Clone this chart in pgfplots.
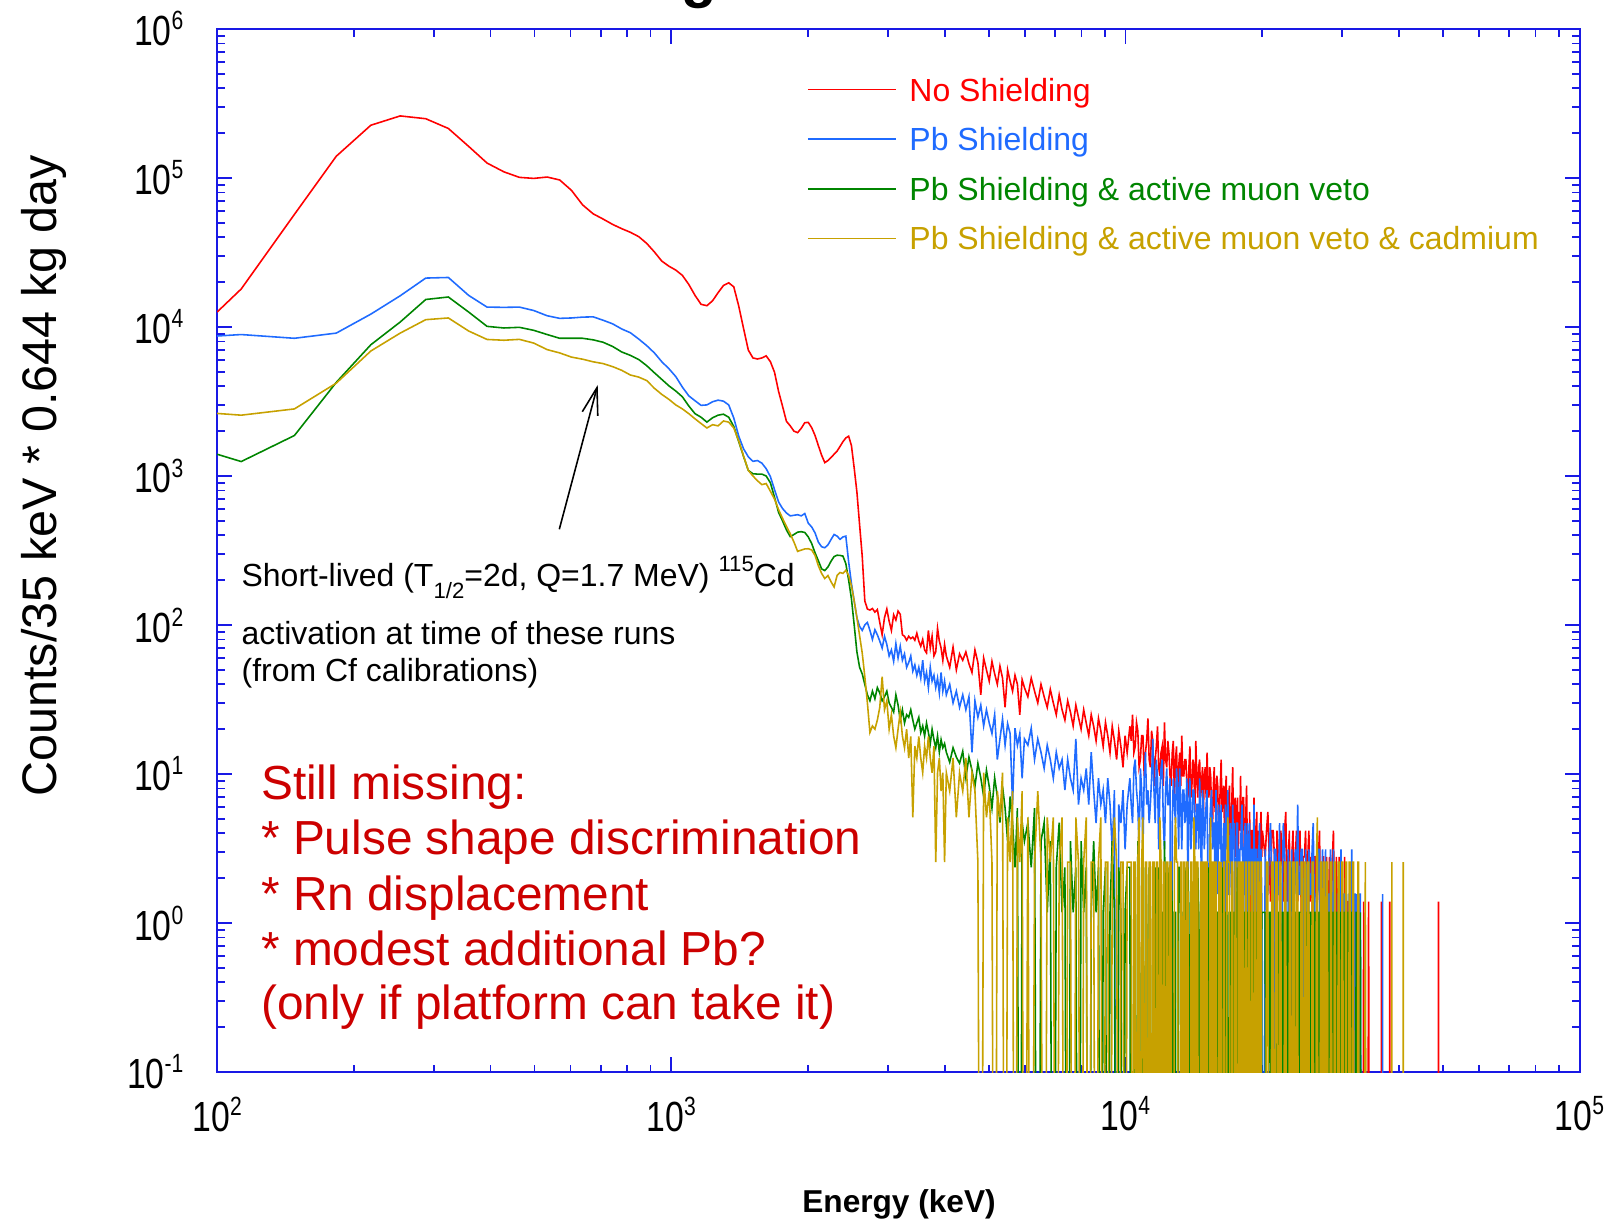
\documentclass[border=0pt]{standalone}
\usepackage{fontspec}
\setmainfont{Liberation Sans}
\newfontfamily\fA{Liberation Sans}
\newfontfamily\fC[FakeStretch=0.8]{Liberation Sans}
\usepackage{pgfplots}
\usepackage{pgfplotstable}
\pgfplotsset{compat=1.18}
\usetikzlibrary{arrows.meta}
\definecolor{cR}{rgb}{1,0,0}
\definecolor{cB}{rgb}{0.12,0.42,1}
\definecolor{cG}{rgb}{0,0.52,0}
\definecolor{cY}{rgb}{0.78,0.63,0}
\definecolor{cT}{rgb}{0.8,0,0}
\definecolor{axb}{rgb}{0.1,0.1,0.9}
\newcommand\tsup[1]{\raisebox{1.6mm}{\fontsize{7.5}{7.5}\selectfont #1}}
\newcommand\asup[1]{\raisebox{1.5mm}{\fontsize{6.3}{6.3}\selectfont #1}}
\newcommand\asub[1]{\raisebox{-1.2mm}{\fontsize{6.3}{6.3}\selectfont #1}}
\pgfplotstableread{
E R B G Y
100 12600 8700 1400 2630
113 18000 8900 1250 2560
148 57000 8400 1870 2820
183 140000 9100 4250 4200
218 226000 12200 7600 6900
253 261000 16200 10800 9100
288 250000 21300 15300 11200
323 215000 21500 15900 11500
358 163000 16300 12600 9400
393 126000 13600 10100 8250
428 110000 13550 9850 8150
463 101000 13600 9950 8260
498 99400 12900 9500 7800
533 101500 11900 8900 7050
568 97000 11430 8400 6700
603 82600 11500 8400 6280
638 66000 11650 8400 6080
673 57500 11700 8200 5840
708 53000 11100 7900 5680
743 48800 10500 7400 5420
778 45700 9700 6800 5120
813 43200 9150 6450 4760
848 40400 8300 6050 4610
883 36400 7500 5500 4370
918 31900 6700 4930 3880
953 27700 5850 4450 3530
988 25600 5250 4030 3270
1023 24100 4650 3720 3000
1058 22200 3950 3400 2820
1093 19300 3450 2950 2620
1128 16300 3200 2620 2420
1163 14200 2980 2480 2250
1198 13900 3000 2300 2100
1233 15000 3150 2460 2210
1268 17000 3230 2560 2170
1303 19000 3180 2600 2340
1338 19800 3000 2480 2300
1373 18600 2450 2150 2100
1408 13800 1850 1700 1720
1443 9750 1520 1350 1360
1478 7000 1345 1090 1090
1513 6200 1255 1035 1000
1548 6100 1270 1030 930
1583 6200 1220 1030 875
1618 6400 1120 1000 890
1653 5850 990 900 790
1688 4970 810 720 700
1723 3700 670 570 595
1758 2940 605 500 520
1793 2330 565 435 460
1828 2170 540 392 410
1863 2000 545 405 360
1898 1955 550 420 312
1933 2090 540 423 318
1968 2280 560 418 324
2003 2290 482 390 325
2038 2110 455 352 319
2073 1870 415 305 293
2108 1600 360 270 250
2143 1380 335 238 222
2178 1230 330 232 205
2213 1270 345 245 215
2248 1330 375 268 195
2283 1400 405 288 180
2318 1470 395 294 215
2353 1580 376 293 225
2388 1700 390 290 222
2423 1800 395 258 233
2458 1850 265 200 215
2493 1600 190 150 183
2528 1130 145 100 145
2563 780 112 66 112
2598 472 98 52 85
2633 290 92 47 65
2668 145 100 40 45
2703 128 104 34 30
2738 126 92 31 19
2773 129 80 36 21
2808 122 93 32 20
2843 127 86 38 23
2878 104 78 35 28
2913 86 70 31 45
2948 112 84 33 27
2983 128 74 36 31
3018 106 62 30 20
3053 92 68 28 25
3088 117 57 26 18
3123 108 75 34 15
3158 124 60 29 20
3193 118 72 23 26
3228 86 58 27 18
3263 84 64 22 15
3298 79 52 25 20
3333 84 56 24 12.8
3368 81 62 27 17.9
3403 83 49 23 5.12
3438 79 54 20 15.4
3473 88 46 22 12.8
3508 78 52 24 17.9
3543 72 44 19 12.8
3578 80 58 21 10.2
3613 68 42 18 15.4
3648 65 48 22 12.8
3683 92 38 19 17.9
3718 70 52 16 12.8
3753 84 42 20 10.2
3788 62 46 17 15.4
3823 66 38 15 2.56
3858 95 44 18 10.2
3893 78 35 14 12.8
3928 70 48 17 7.68
3963 58 36 15 10.2
3998 74 42 16 2.56
4033 62 34 14 10.2
4103 52 40 12 7.68
4173 71 30 15 12.8
4243 50 36 13 5.12
4313 64 28 11.8 10.2
4383 58 34 14.2 7.68
4453 66 27 9.44 12.8
4523 55 33 13 5.12
4593 48 14 10.6 10.2
4663 68 31 8.26 7.68
4733 56 24 11.8 2.56
4803 34 29 9.44 1e-5
4873 60 21 7.08 10.2
4943 50 27 10.6 5.12
5013 42 22 8.26 7.68
5083 57 18.7 5.9 2.56
5153 47 25 9.44 1e-5
5223 40 12.5 7.08 7.68
5293 53 17.2 4.72 5.12
5363 44 23.4 8.26 10.2
5433 28 15.6 5.9 1e-5
5503 50 21.8 3.54 5.12
5573 42 18.7 7.08 2.56
5643 36 6.24 4.72 7.68
5713 46 20.3 2.36 1e-5
5783 40 15.6 5.9 5.12
5853 25 18.7 1e-5 2.56
5923 43 9.36 4.72 7.68
5993 38 17.2 3.54 1e-5
6098 33 15.6 4.72 5.12
6203 44 20.3 2.36 1e-5
6308 36 12.5 5.9 2.56
6413 30 17.2 1e-5 7.68
6518 40 14 3.54 2.56
6623 33 10.9 4.72 1e-5
6728 28 15.6 1.18 5.12
6833 37 12.5 3.54 2.56
6938 30 9.36 1e-5 5.12
7043 25 14 2.36 1e-5
7148 34 10.9 4.72 2.56
7253 27 12.5 1.18 5.12
7358 23 7.8 2.36 1e-5
7463 31 12.5 1e-5 2.56
7568 26 9.36 3.54 2.56
7673 21 7.8 1.18 1e-5
7778 29 17.2 2.36 5.12
7883 24 6.24 1e-5 2.56
7988 20 9.36 3.54 1e-5
8093 27 7.8 1.18 2.56
8198 22 10.9 2.36 5.12
8303 18.1 6.24 1e-5 1e-5
8408 25 14 1.18 2.56
8513 20.9 7.8 3.54 2.56
8618 16.7 4.68 1.18 1e-5
8723 23.6 9.36 2.36 2.56
8828 19.5 6.24 1e-5 5.12
8933 15.3 7.8 1.18 1e-5
9038 22.2 4.68 2.36 2.56
9143 18.1 9.36 1e-5 2.56
9248 13.9 6.24 1.18 1e-5
9353 20.9 3.12 3.54 2.56
9458 16.7 7.8 1.18 5.12
9563 12.5 1e-5 1e-5 2.56
9668 19.5 6.24 2.36 1e-5
9773 15.3 4.68 1.18 2.56
9878 11.1 7.8 1e-5 2.56
9983 18.1 3.12 1.18 1e-5
10088 13.9 6.24 2.36 2.56
10228 20.9 9.36 2.36 2.56
10298 16.7 6.24 1e-5 2.56
10368 25 4.68 1e-5 1e-5
10438 13.9 10.9 1.18 2.56
10508 15.3 12.5 1.18 2.56
10578 22.2 7.8 1e-5 1e-5
10648 19.5 6.24 3.54 2.56
10718 11.1 3.12 1.18 5.12
10788 12.5 10.9 1e-5 1e-5
10858 18.1 7.8 2.36 2.56
10928 18.1 3.12 1.18 5.12
10998 9.73 9.36 1e-5 1e-5
11068 13.9 14 2.36 2.56
11138 16.7 6.24 1.18 2.56
11208 23.6 7.8 1e-5 1e-5
11278 12.5 4.68 2.36 2.56
11348 11.1 6.24 1.18 2.56
11418 19.5 9.36 1e-5 1e-5
11488 16.7 17.2 1e-5 2.56
11558 8.34 7.8 1.18 2.56
11628 12.5 4.68 2.36 1e-5
11698 15.3 12.5 1e-5 2.56
11768 20.9 9.36 1.18 2.56
11838 11.1 3.12 2.36 1e-5
11908 9.73 7.8 1e-5 5.12
11978 13.9 10.9 1.18 2.56
12048 15.3 12.5 1.18 1e-5
12118 8.34 4.68 1e-5 2.56
12188 22.2 3.12 3.54 2.56
12258 12.5 7.8 1.18 1e-5
12328 11.1 10.9 1e-5 2.56
12398 16.7 6.24 2.36 2.56
12468 13.9 6.24 1.18 1e-5
12538 9.73 9.36 1e-5 2.56
12608 8.34 1e-5 2.36 2.56
12678 13.9 4.68 1.18 1e-5
12748 16.7 9.36 1e-5 1e-5
12818 6.95 6.24 1.18 2.56
12888 12.5 4.68 1.18 5.12
12958 15.3 10.9 1e-5 2.56
13028 6.95 7.8 1e-5 2.56
13098 11.1 3.12 2.36 1e-5
13168 13.9 10.9 2.36 1e-5
13238 8.34 6.24 1.18 2.56
13308 18.1 3.12 1.18 2.56
13378 9.73 7.8 1e-5 1e-5
13448 9.73 7.8 1e-5 2.56
13518 12.5 4.68 2.36 2.56
13588 12.5 6.24 1.18 1e-5
13658 8.34 9.36 1e-5 2.56
13728 6.95 1.56 2.36 2.56
13798 11.1 6.24 1.18 1e-5
13868 15.3 9.36 1e-5 1e-5
13938 6.95 3.12 1.18 2.56
14008 8.34 4.68 1.18 2.56
14078 12.5 7.8 1e-5 1e-5
14148 11.1 7.8 1e-5 5.12
14218 5.56 4.68 1.18 2.56
14288 16.7 3.12 1.18 1e-5
14358 9.73 6.24 1e-5 2.56
14428 6.95 6.24 2.36 2.56
14498 11.1 3.12 1.18 1e-5
14568 12.5 9.36 1e-5 1e-5
14638 6.95 4.68 1.18 2.56
14708 8.34 1.56 1.18 2.56
14778 11.1 7.8 1e-5 1e-5
14848 5.56 6.24 1e-5 2.56
14918 9.73 3.12 2.36 2.56
14988 11.1 4.68 1.18 1e-5
15058 6.95 6.24 1e-5 2.56
15128 13.9 7.8 1e-5 2.56
15198 8.34 1.56 1.18 1e-5
15268 6.95 1e-5 2.36 1e-5
15338 11.1 4.68 1e-5 2.56
15408 9.73 6.24 1.18 5.12
15478 5.56 7.8 1.18 1e-5
15548 4.17 3.12 1e-5 2.56
15618 8.34 4.68 1.18 2.56
15688 11.1 4.68 1.18 1e-5
15758 5.56 1.56 1e-5 2.56
15828 6.95 7.8 1e-5 2.56
15898 9.73 3.12 1.18 1e-5
15968 8.34 1.56 1.18 1e-5
16038 4.17 6.24 1e-5 2.56
16108 5.56 4.68 1.18 2.56
16178 8.34 3.12 2.36 1e-5
16248 12.5 6.24 1e-5 2.56
16318 5.56 1e-5 1.18 1e-5
16388 6.95 3.12 2.36 1e-5
16458 8.34 4.68 1e-5 2.56
16528 4.17 1e-5 1.18 2.56
16598 6.95 6.24 1.18 1e-5
16668 9.73 4.68 1e-5 1e-5
16738 4.17 3.12 1.18 2.56
16808 5.56 7.8 1.18 5.12
16878 6.95 1.56 1e-5 2.56
16948 8.34 1.56 1e-5 2.56
17018 2.78 4.68 1.18 1e-5
17088 4.17 3.12 1.18 1e-5
17158 6.95 1.56 1e-5 2.56
17228 11.1 6.24 1e-5 2.56
17298 4.17 3.12 1.18 1e-5
17368 5.56 4.68 1.18 1e-5
17438 6.95 1e-5 1e-5 2.56
17508 2.78 1.56 1e-5 2.56
17578 5.56 4.68 1.18 1e-5
17648 6.95 4.68 2.36 1e-5
17718 2.78 1.56 1e-5 2.56
17788 5.56 1e-5 1.18 2.56
17858 4.17 3.12 1e-5 1e-5
17928 9.73 3.12 1e-5 2.56
17998 4.17 4.68 1.18 2.56
18068 4.17 6.24 1.18 1e-5
18138 6.95 1.56 1e-5 2.56
18208 6.95 1.56 1e-5 2.56
18278 2.78 3.12 1.18 1e-5
18348 2.78 4.68 1.18 1e-5
18418 5.56 1e-5 1e-5 2.56
18488 8.34 3.12 1e-5 2.56
18558 2.78 4.68 1.18 1e-5
18628 4.17 1e-5 1.18 1e-5
18698 1e-5 3.12 1e-5 2.56
18768 5.56 4.68 1e-5 2.56
18838 2.78 1.56 1.18 1e-5
18908 1e-5 1.56 1.18 1e-5
18978 4.17 3.12 1e-5 2.56
19048 4.17 3.12 1e-5 2.56
19118 1.39 1e-5 1.18 1e-5
19188 6.95 6.24 1.18 1e-5
19258 2.78 1.56 1e-5 2.56
19328 2.78 1e-5 1e-5 2.56
19398 4.17 3.12 1.18 1e-5
19468 5.56 3.12 1.18 1e-5
19538 1e-5 1.56 1e-5 2.56
19608 4.17 1.56 1e-5 2.56
19678 2.78 3.12 1.18 1e-5
19748 1.39 4.68 1.18 1e-5
19818 4.17 1e-5 1e-5 2.56
19888 5.56 3.12 1e-5 2.56
19958 2.78 1.56 1.18 1e-5
20028 4.17 1e-5 1.18 1e-5
20308 2.78 3.12 1.18 1e-5
20448 4.17 1.56 1e-5 2.56
20588 5.56 1.56 1e-5 2.56
20728 2.78 3.12 1.18 1e-5
20868 1.39 4.68 1.18 1e-5
21008 4.17 1.56 1e-5 2.56
21148 4.17 1e-5 1.18 2.56
21288 2.78 3.12 1e-5 1e-5
21428 1e-5 3.12 1e-5 2.56
21568 4.17 1.56 1.18 2.56
21708 2.78 1.56 1.18 1e-5
21848 1.39 4.68 1e-5 2.56
21988 4.17 1e-5 1e-5 2.56
22128 2.78 1.56 1.18 1e-5
22268 1.39 4.68 1.18 1e-5
22408 4.17 3.12 1e-5 2.56
22548 5.56 1.56 1e-5 2.56
22688 1.39 1e-5 1.18 1e-5
22828 2.78 3.12 1.18 1e-5
22968 4.17 1.56 1e-5 2.56
23108 1e-5 1.56 2.36 2.56
23248 2.78 3.12 1e-5 1e-5
23388 4.17 1e-5 1e-5 2.56
23528 1.39 1.56 1.18 2.56
23668 2.78 3.12 1.18 1e-5
23808 4.17 1.56 1e-5 2.56
23948 1.39 6.24 1e-5 2.56
24088 2.78 1.56 1.18 1e-5
24228 4.17 1.56 1.18 1e-5
24368 1.39 3.12 1e-5 2.56
24508 1e-5 3.12 1.18 2.56
24648 2.78 1.56 1e-5 1e-5
24788 2.78 1e-5 1e-5 2.56
24928 4.17 3.12 1.18 2.56
25068 1.39 1.56 1.18 1e-5
25208 2.78 1e-5 1e-5 2.56
25348 4.17 3.12 1e-5 2.56
25488 1.39 1.56 1.18 1e-5
25628 2.78 1.56 1.18 1e-5
25768 1.39 3.12 1e-5 2.56
25908 1e-5 4.68 1e-5 2.56
26048 2.78 1.56 1.18 1e-5
26188 2.78 1e-5 1.18 1e-5
26328 1.39 1.56 1e-5 2.56
26468 1.39 1.56 1e-5 5.12
26608 2.78 3.12 1.18 1e-5
26748 4.17 3.12 1.18 1e-5
26888 1.39 1e-5 1e-5 2.56
27028 1e-5 1.56 1.18 2.56
27168 2.78 3.12 1e-5 1e-5
27308 2.78 1e-5 1e-5 2.56
27448 1.39 1.56 1.18 2.56
27588 1.39 3.12 1.18 1e-5
27728 2.78 1e-5 1e-5 2.56
27868 1e-5 1.56 1e-5 2.56
28008 1.39 1.56 1.18 1e-5
28148 2.78 1e-5 1.18 1e-5
28288 1e-5 3.12 1e-5 2.56
28428 1.39 1.56 1e-5 2.56
28568 2.78 1e-5 1.18 1e-5
28708 4.17 3.12 1.18 1e-5
28848 1.39 1.56 1e-5 2.56
28988 1e-5 1.56 1e-5 2.56
29128 2.78 1e-5 1.18 1e-5
29268 1.39 1e-5 1.18 1e-5
29408 1e-5 1.56 1e-5 2.56
29548 2.78 1.56 1e-5 2.56
29688 1.39 1e-5 1.18 1e-5
29828 1e-5 3.12 1.18 1e-5
29968 1.39 1.56 1e-5 2.56
30108 1.39 1e-5 1e-5 2.56
30248 1e-5 1.56 1.18 1e-5
30388 2.78 1.56 1.18 1e-5
30528 1e-5 1e-5 1e-5 2.56
30668 1e-5 1.56 1e-5 2.56
30808 1.39 1e-5 1.18 1e-5
30948 1.39 1e-5 1.18 1e-5
31088 1e-5 1.56 1e-5 2.56
31228 1.39 1.56 1e-5 2.56
31368 1e-5 1e-5 1.18 1e-5
31508 1e-5 3.12 1.18 1e-5
31648 1.39 1e-5 1e-5 2.56
31788 1.39 1e-5 1e-5 2.56
31928 1e-5 1.56 1e-5 1e-5
32068 1e-5 1.56 1e-5 1e-5
32208 1.39 1e-5 1.18 1e-5
32348 1e-5 1.56 1.18 1e-5
32488 1e-5 1e-5 1e-5 2.56
32628 1.39 1e-5 1e-5 2.56
32768 1e-5 1.56 1e-5 1e-5
32908 1e-5 1.56 1.18 1e-5
33188 1e-5 1e-5 1e-5 1e-5
33468 1.39 1e-5 1e-5 1e-5
33748 1e-5 1e-5 1e-5 2.56
34028 1e-5 1e-5 1e-5 1e-5
34308 1.39 1e-5 1e-5 1e-5
34588 1e-5 1e-5 1e-5 1e-5
36585 1e-5 1e-5 1e-5 1e-5
36600 1.39 1e-5 1e-5 1e-5
36615 1e-5 1e-5 1e-5 1e-5
36825 1e-5 1e-5 1e-5 1e-5
36840 1e-5 1.56 1e-5 1e-5
36855 1e-5 1e-5 1e-5 1e-5
38185 1e-5 1e-5 1e-5 1e-5
38200 1.39 1e-5 1e-5 1e-5
38215 1e-5 1e-5 1e-5 1e-5
38585 1e-5 1e-5 1e-5 1e-5
38600 1e-5 1e-5 1e-5 2.56
38615 1e-5 1e-5 1e-5 1e-5
40885 1e-5 1e-5 1e-5 1e-5
40900 1e-5 1e-5 1e-5 2.56
40915 1e-5 1e-5 1e-5 1e-5
48885 1e-5 1e-5 1e-5 1e-5
48900 1.39 1e-5 1e-5 1e-5
48915 1e-5 1e-5 1e-5 1e-5
}\spec
\begin{document}
\begin{tikzpicture}
\begin{axis}[
  at={(21.71mm,14.8mm)}, anchor=south west,
  width=136.25mm, height=104.3mm, scale only axis,
  xmode=log, ymode=log,
  xmin=100, xmax=100000, ymin=0.1, ymax=1000000,
  xtick={100,1000,10000,100000},
  xticklabels={10\tsup{2},10\tsup{3},10\tsup{4},10\tsup{5}},
  ytick={0.1,1,10,100,1000,10000,100000,1000000},
  yticklabels={10\tsup{-1},10\tsup{0},10\tsup{1},10\tsup{2},10\tsup{3},10\tsup{4},10\tsup{5},10\tsup{6}},
  tick align=inside,
  major tick length=1.5mm, minor tick length=0.75mm,
  axis line style={axb, line width=0.6pt},
  tick style={axb, line width=0.5pt},
  xticklabel style={font={\fC\fontsize{12}{12}\selectfont}, anchor=north, inner sep=0pt, yshift=-2.4mm},
  yticklabel style={font={\fC\fontsize{12}{12}\selectfont}, anchor=east, inner sep=0pt, xshift=-3.3mm},
  xlabel={Energy (keV)},
  xlabel style={font={\fA\bfseries\fontsize{9}{9}\selectfont}, at={(axis description cs:0.5005,-0.1348)}, anchor=base, inner sep=0pt},
  ylabel={Counts/35 keV * 0.644 kg day},
  ylabel style={font={\fA\fontsize{13.8}{13.8}\selectfont}, at={(axis description cs:-0.1179,0.5718)}, anchor=base, inner sep=0pt},
  legend style={at={(axis description cs:0.4325,0.9535)}, anchor=north west, draw=none, fill=none, inner sep=0pt,
    font={\fA\fontsize{9.1}{9.1}\selectfont}, row sep=1.98mm, column sep=1.3mm,
    nodes={inner sep=0pt, text height=2.28mm, text depth=0.7mm},
    cells={anchor=base west}},
  legend image code/.code={\draw[#1] (0mm,1.14mm) -- (8.78mm,1.14mm);},
  every axis plot/.append style={line width=0.45pt},
]
\addplot[cR] table[x=E, y=R] {\spec};
\addlegendentry{\textcolor{cR}{No Shielding}}
\addplot[cB] table[x=E, y=B] {\spec};
\addlegendentry{\textcolor{cB}{Pb Shielding}}
\addplot[cG] table[x=E, y=G] {\spec};
\addlegendentry{\textcolor{cG}{Pb Shielding \& active muon veto}}
\addplot[cY] table[x=E, y=Y] {\spec};
\addlegendentry{\textcolor{cY}{Pb Shielding \& active muon veto \& cadmium}}
\end{axis}
\node[anchor=base east, inner sep=0pt, font={\fA\bfseries\fontsize{16.5}{16.5}\selectfont}] at (71.75mm,122.3mm) {Shielding};
\begin{scope}[every node/.style={anchor=base west, inner sep=0pt}]
\node[text=cT, font={\fA\fontsize{13.6}{13.6}\selectfont}] at (26.05mm,42.03mm) {Still missing:};
\node[text=cT, font={\fA\fontsize{13.6}{13.6}\selectfont}] at (26.05mm,36.55mm) {* Pulse shape discrimination};
\node[text=cT, font={\fA\fontsize{13.6}{13.6}\selectfont}] at (26.05mm,30.97mm) {* Rn displacement};
\node[text=cT, font={\fA\fontsize{13.6}{13.6}\selectfont}] at (26.05mm,25.49mm) {* modest additional Pb?};
\node[text=cT, font={\fA\fontsize{13.6}{13.6}\selectfont}] at (26.05mm,20.01mm) {(only if platform can take it)};
\node[font={\fA\fontsize{9.1}{9.1}\selectfont}] at (24.09mm,63.35mm) {Short-lived (T\asub{1/2}=2d, Q=1.7 MeV) \asup{115}Cd};
\node[font={\fA\fontsize{9.1}{9.1}\selectfont}] at (24.09mm,57.58mm) {activation at time of these runs};
\node[font={\fA\fontsize{9.1}{9.1}\selectfont}] at (24.09mm,53.85mm) {(from Cf calibrations)};
\end{scope}
\draw[black, line width=0.45pt, -{Straight Barb[length=2.7mm,width=1.6mm]}] (55.93mm,69.07mm) -- (59.77mm,83.5mm);
\pgfresetboundingbox
\path[use as bounding box] (0,0) rectangle (162.1mm,122mm);
\end{tikzpicture}
\end{document}
